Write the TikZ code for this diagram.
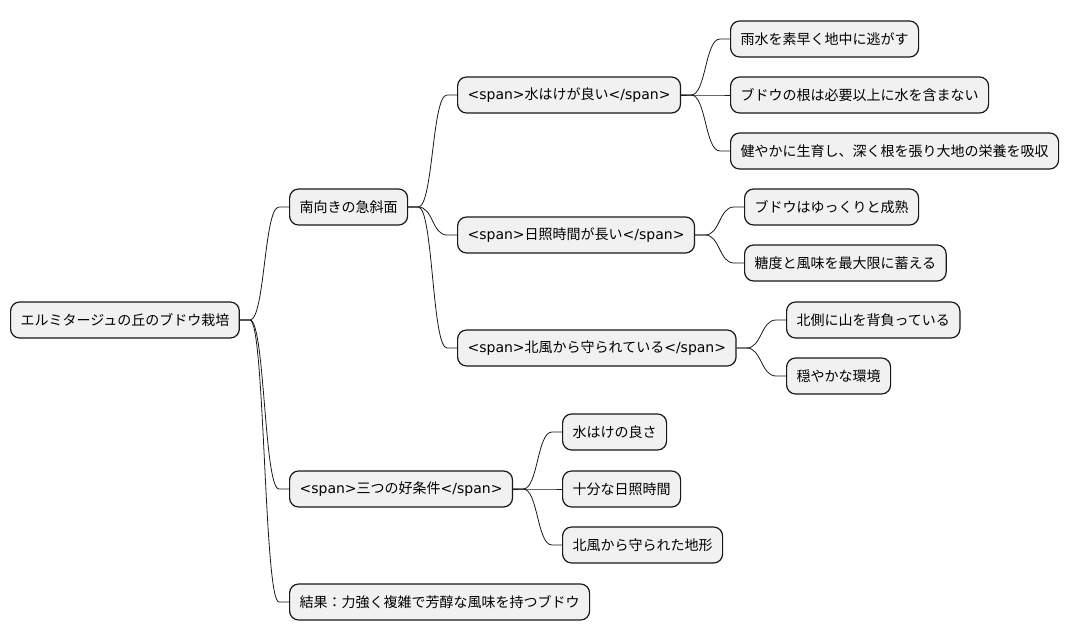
\documentclass[tikz,border=0pt]{standalone}
\usepackage{fontspec}
\setmainfont{Noto Sans CJK JP}
\newfontfamily\latinfont{DejaVu Sans}
\newcommand{\spanon}{{\latinfont <span>}}
\newcommand{\spanoff}{{\latinfont </span>}}
\definecolor{boxfill}{HTML}{F1F1F1}
\definecolor{boxline}{HTML}{181818}

\begin{document}
\begin{tikzpicture}[x=1pt, y=-1pt,
  topic/.style={draw=boxline, fill=boxfill, line width=1.2pt, rounded corners=9pt,
    anchor=west, minimum height=36pt, inner xsep=10pt, inner ysep=0pt,
    font=\fontsize{14pt}{16pt}\selectfont},
  branch/.style={draw=boxline, line width=0.8pt}]
  \useasboundingbox (0,0) rectangle (1069,640);

  % root
  \node[topic] (root) at (10,320) {エルミタージュの丘のブドウ栽培};

  % level 1
  \node[topic] (slope)  at (289,207) {南向きの急斜面};
  \node[topic] (three)  at (289,489) {\spanon 三つの好条件\spanoff};
  \node[topic] (result) at (289,602) {結果：力強く複雑で芳醇な風味を持つブドウ};

  % level 2
  \node[topic] (drain) at (457,95)  {\spanon 水はけが良い\spanoff};
  \node[topic] (sun)   at (457,235) {\spanon 日照時間が長い\spanoff};
  \node[topic] (wind)  at (457,348) {\spanon 北風から守られている\spanoff};

  % level 3
  \node[topic] (rain)   at (730,39)  {雨水を素早く地中に逃がす};
  \node[topic] (roots)  at (730,95)  {ブドウの根は必要以上に水を含まない};
  \node[topic] (growth) at (730,151) {健やかに生育し、深く根を張り大地の栄養を吸収};
  \node[topic] (ripen)  at (744,207) {ブドウはゆっくりと成熟};
  \node[topic] (sugar)  at (744,263) {糖度と風味を最大限に蓄える};
  \node[topic] (mount)  at (786,320) {北側に山を背負っている};
  \node[topic] (calm)   at (786,376) {穏やかな環境};
  \node[topic] (good)   at (562,432) {水はけの良さ};
  \node[topic] (hours)  at (562,489) {十分な日照時間};
  \node[topic] (shelter) at (562,545) {北風から守られた地形};

  % connectors
  \foreach \p/\c in {root/slope, root/three, root/result,
      slope/drain, slope/sun, slope/wind,
      drain/rain, drain/roots, drain/growth,
      sun/ripen, sun/sugar, wind/mount, wind/calm,
      three/good, three/hours, three/shelter}{
    \draw[branch] (\p.east) -- ([xshift=10pt]\p.east)
      .. controls ([xshift=25pt]\p.east) and ([xshift=-25pt]\c.west)
      .. ([xshift=-10pt]\c.west) -- (\c.west);
  }
\end{tikzpicture}
\end{document}
